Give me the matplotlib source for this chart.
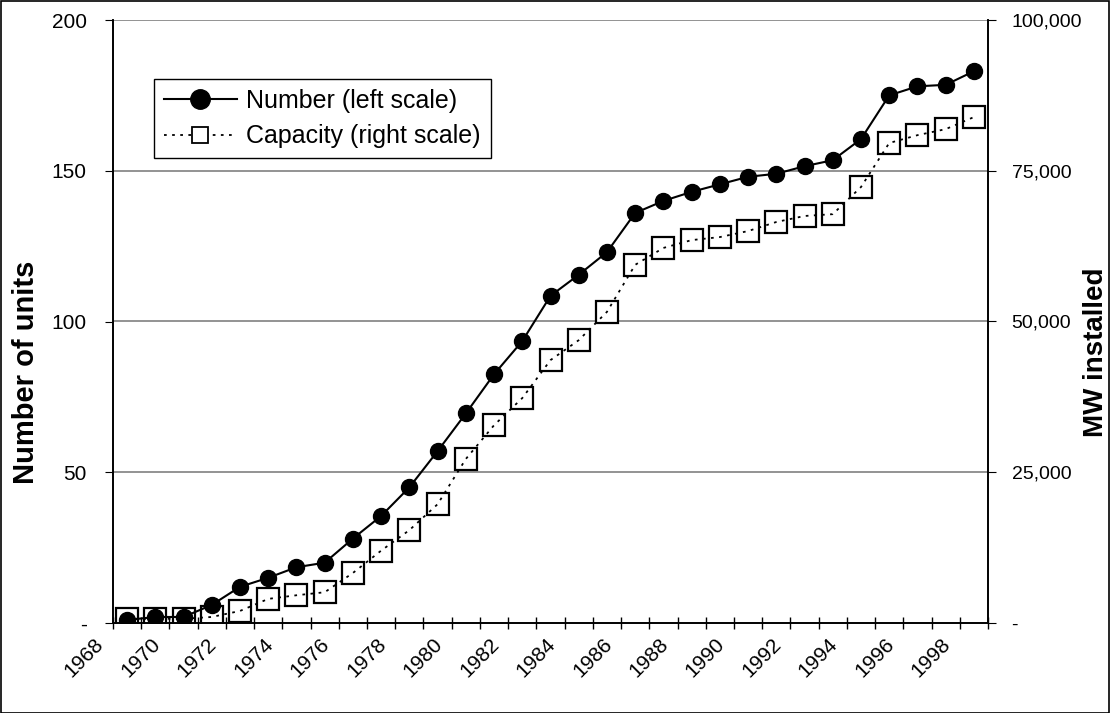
import matplotlib.pyplot as plt
from matplotlib.patches import Rectangle
from matplotlib.lines import Line2D
import matplotlib.transforms as mtransforms

plt.rcParams['font.family'] = ['Liberation Sans', 'DejaVu Sans']

years = list(range(1968, 1999))
units = [1, 2, 2, 6, 12, 15, 18.5, 20, 28, 35.5, 45, 57, 69.5, 82.5, 93.5, 108.5,
         115.5, 123, 136, 140, 143, 145.5, 148, 149, 151.5, 153.5, 160.5, 175, 178, 178.5, 183]
mw = [700, 700, 700, 1000, 2000, 4000, 4600, 5100, 8300, 12000, 15400, 19700, 27200,
      32800, 37300, 43600, 46900, 51600, 59400, 62200, 63500, 64000, 65000, 66500,
      67500, 67800, 72300, 79600, 80900, 81900, 83900]
left_ticks = [0, 50, 100, 150, 200]
left_labels = ['-', '50', '100', '150', '200']
right_ticks = [0, 25000, 50000, 75000, 100000]
right_labels = ['-', '25,000', '50,000', '75,000', '100,000']

W, H = 1110, 713
fig = plt.figure(figsize=(W / 100, H / 100), dpi=100)
ax = fig.add_axes([113 / W, 1 - 623 / H, 875 / W, 603 / H])
ax2 = ax.twinx()

x = list(range(len(years)))

# capacity on right scale: squares first, dotted line on top
ax2.plot(x, mw, linestyle='none', marker='s', markersize=16, markerfacecolor='white',
         markeredgecolor='black', markeredgewidth=1.6, zorder=2)
ax2.plot(x, mw, linestyle=(0, (1.5, 3)), color='black', linewidth=1.3, zorder=3)
ax2.set_ylim(0, 100000)
ax2.set_yticks(right_ticks)
ax2.set_yticklabels(right_labels)

ax.plot(x, units, color='black', linewidth=1.5, marker='o', markersize=11.5,
        markerfacecolor='black', zorder=4)
ax.set_ylim(0, 200)
ax.set_yticks(left_ticks)
ax.set_yticklabels(left_labels)
ax.set_zorder(ax2.get_zorder() + 1)
ax.patch.set_visible(False)

for t in [50, 100, 150, 200]:
    ax2.axhline(t * 500, color='#808080', linewidth=1.2, zorder=0)

ax.set_xlim(-0.5, len(years) - 0.5)
ax.set_xticks(x[::2])
ax.set_xticks([i - 0.5 for i in range(len(years) + 1)], minor=True)
ax.tick_params(axis='x', which='major', length=0, pad=8)
ax.tick_params(axis='x', which='minor', direction='inout', length=9, width=1)
ax.set_xticklabels([str(y) for y in years[::2]], rotation=45, ha='right',
                   rotation_mode='anchor', fontsize=15)
offset = mtransforms.ScaledTranslation(-33 / 100, 0, fig.dpi_scale_trans)
for lab in ax.get_xticklabels():
    lab.set_transform(lab.get_transform() + offset)

ax.tick_params(axis='y', direction='out', length=6, labelsize=15, pad=13)
ax2.tick_params(axis='y', direction='out', length=6, labelsize=14, pad=11)

for a in (ax, ax2):
    a.spines['top'].set_visible(False)
    a.spines['left'].set_linewidth(1.2)
    a.spines['right'].set_linewidth(1.2)
    a.spines['bottom'].set_linewidth(1.2)

fig.text(26 / W, 1 - 372 / H, 'Number of units', rotation=90, ha='center', va='center',
         fontsize=21, fontweight='bold')
fig.text(1096 / W, 1 - 352 / H, 'MW installed', rotation=90, ha='center', va='center',
         fontsize=20, fontweight='bold')

handles = [
    Line2D([], [], color='black', linewidth=1.5, marker='o', markersize=14),
    Line2D([], [], color='black', linestyle=(0, (1.5, 3)), linewidth=1.3, marker='s',
           markersize=11, markerfacecolor='white', markeredgecolor='black', markeredgewidth=1.3),
]
leg = ax.legend(handles, ['Number (left scale)', 'Capacity (right scale)'],
                loc='upper left', bbox_to_anchor=(154 / W, 1 - 79 / H),
                bbox_transform=fig.transFigure, fontsize=18, frameon=True,
                fancybox=False, edgecolor='black', framealpha=1,
                handlelength=2.9, handletextpad=0.4, borderpad=0.4, labelspacing=0.45,
                borderaxespad=0)
leg.get_frame().set_linewidth(1.0)

fig.patches.append(Rectangle((0.5 / W, 0.5 / H), 1 - 1.5 / W, 1 - 1.5 / H,
                             transform=fig.transFigure, fill=False,
                             edgecolor='black', linewidth=1.2))

fig.savefig('out.png', dpi=100)
